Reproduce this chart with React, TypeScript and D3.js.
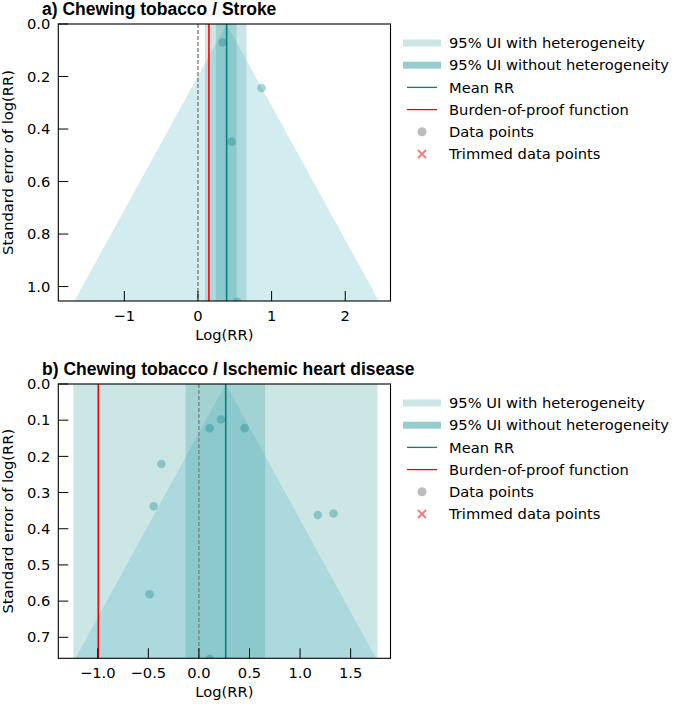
import React from "react";
import * as d3 from "d3";

// ---- Data ----
const panelTitles = ["a)  Chewing tobacco / Stroke", "b) Chewing tobacco / Ischemic heart disease"];
const meanRR = [0.389, 0.265];
const burdenOfProof = [0.149, -0.995];
const uiHetLo = [0.095, -1.241];
const uiHetHi = [0.66, 1.765];
const uiLo = [0.244, -0.132];
const uiHi = [0.524, 0.655];
const xDomains: [number, number][] = [[-1.897, 2.615], [-1.39, 1.894]];
const yDomains: [number, number][] = [[0, 1.055], [0, 0.758]];
const xTicksA = [-1, 0, 1, 2];
const xTicksB = [-1.0, -0.5, 0.0, 0.5, 1.0, 1.5];
const yTicksA = [0.0, 0.2, 0.4, 0.6, 0.8, 1.0];
const yTicksB = [0.0, 0.1, 0.2, 0.3, 0.4, 0.5, 0.6, 0.7];
const strokeX = [0.335, 0.863, 0.457, 0.533];
const strokeSE = [0.07, 0.244, 0.448, 1.058];
const ihdX = [0.106, 0.218, 0.451, -0.37, -0.447, 1.176, 1.331, -0.487, 0.106];
const ihdSE = [0.122, 0.098, 0.122, 0.221, 0.338, 0.362, 0.358, 0.581, 0.76];
const legendLabels = [
  "95% UI with heterogeneity",
  "95% UI without heterogeneity",
  "Mean RR",
  "Burden-of-proof function",
  "Data points",
  "Trimmed data points",
];

const TEAL = "#008080";
const FONT = "DejaVu Sans, sans-serif";
const FS = 14.7;

type PanelProps = {
  idx: number;
  top: number;
  bottom: number;
  xTicks: number[];
  yTicks: number[];
  xFmt: (v: number) => string;
  px: number[];
  pse: number[];
};

function Panel({ idx, top, bottom, xTicks, yTicks, xFmt, px, pse }: PanelProps) {
  const left = 58.3;
  const right = 390.5;
  const x = d3.scaleLinear().domain(xDomains[idx]).range([left, right]);
  const y = d3.scaleLinear().domain(yDomains[idx]).range([top, bottom]);
  const seMax = yDomains[idx][1];
  const m = meanRR[idx];
  const funnel = d3.line<[number, number]>().x((d) => x(d[0])).y((d) => y(d[1]))([
    [m, 0],
    [m - 1.96 * seMax * 1.05, seMax * 1.05],
    [m + 1.96 * seMax * 1.05, seMax * 1.05],
  ])!;
  const clipId = `clip${idx}`;
  const fmtY = (v: number) => v.toFixed(1);
  const lx = 403;
  const rowY = (i: number) => top + 19 + i * 22.2;
  return (
    <g>
      <defs>
        <clipPath id={clipId}>
          <rect x={left} y={top} width={right - left} height={bottom - top} />
        </clipPath>
      </defs>
      <text x={42} y={top - 9.5} fontFamily="Liberation Sans, Arial, sans-serif" fontWeight="bold" fontSize={17.5}>
        {panelTitles[idx]}
      </text>
      <g clipPath={`url(#${clipId})`}>
        <rect x={x(uiHetLo[idx])} y={top} width={x(uiHetHi[idx]) - x(uiHetLo[idx])} height={bottom - top} fill={TEAL} fillOpacity={0.2} />
        <rect x={x(uiLo[idx])} y={top} width={x(uiHi[idx]) - x(uiLo[idx])} height={bottom - top} fill={TEAL} fillOpacity={0.2} />
        <path d={funnel} fill="rgb(68,174,191)" fillOpacity={0.235} />
        <line x1={x(0)} x2={x(0)} y1={top} y2={bottom} stroke="#808080" strokeWidth={1.4} strokeDasharray="4,2" />
        <line x1={x(burdenOfProof[idx])} x2={x(burdenOfProof[idx])} y1={top} y2={bottom} stroke="red" strokeWidth={1.6} />
        <line x1={x(m)} x2={x(m)} y1={top} y2={bottom} stroke={TEAL} strokeWidth={1.6} />
        {px.map((v, i) => (
          <circle key={i} cx={x(v)} cy={y(pse[i])} r={4.3} fill={TEAL} fillOpacity={0.32} />
        ))}
      </g>
      <rect x={left} y={top} width={right - left} height={bottom - top} fill="none" stroke="#000" strokeWidth={1.1} />
      {yTicks.map((t) => (
        <g key={`y${t}`}>
          <line x1={left} x2={left + 10} y1={y(t)} y2={y(t)} stroke="#000" strokeWidth={1} />
          <text x={left - 8} y={y(t)} dy="0.35em" textAnchor="end" fontFamily={FONT} fontSize={FS}>
            {fmtY(t)}
          </text>
        </g>
      ))}
      {xTicks.map((t) => (
        <g key={`x${t}`}>
          <line x1={x(t)} x2={x(t)} y1={bottom} y2={bottom - 10} stroke="#000" strokeWidth={1} />
          <text x={x(t)} y={bottom + 20} textAnchor="middle" fontFamily={FONT} fontSize={FS}>
            {xFmt(t)}
          </text>
        </g>
      ))}
      <text x={(left + right) / 2} y={bottom + 39} textAnchor="middle" fontFamily={FONT} fontSize={FS}>
        Log(RR)
      </text>
      <text
        transform={`translate(13,${(top + bottom) / 2}) rotate(-90)`}
        textAnchor="middle"
        fontFamily={FONT}
        fontSize={FS}
      >
        Standard error of log(RR)
      </text>
      {/* legend */}
      <g>
        <rect x={lx} y={rowY(0) - 3.5} width={38} height={7} fill={TEAL} fillOpacity={0.2} />
        <rect x={lx} y={rowY(1) - 3.5} width={38} height={7} fill={TEAL} fillOpacity={0.4} />
        <line x1={lx + 4} x2={lx + 34} y1={rowY(2)} y2={rowY(2)} stroke={TEAL} strokeWidth={1.3} />
        <line x1={lx + 4} x2={lx + 34} y1={rowY(3)} y2={rowY(3)} stroke="red" strokeWidth={1.3} />
        <circle cx={lx + 19} cy={rowY(4)} r={4.5} fill="#bdbdbd" />
        <g stroke="#f08080" strokeWidth={2.2}>
          <line x1={lx + 15} x2={lx + 23} y1={rowY(5) - 4} y2={rowY(5) + 4} />
          <line x1={lx + 15} x2={lx + 23} y1={rowY(5) + 4} y2={rowY(5) - 4} />
        </g>
        {legendLabels.map((l, i) => (
          <text key={l} x={449} y={rowY(i)} dy="0.35em" fontFamily={FONT} fontSize={FS}>
            {l}
          </text>
        ))}
      </g>
    </g>
  );
}

export default function App() {
  const minus = (s: string) => s.replace("-", "\u2212");
  return (
    <svg width={675} height={707} style={{ position: "absolute", left: 0, top: 0, display: "block" }}>
      <rect x={0} y={0} width={675} height={707} fill="#fff" />
      <Panel
        idx={0}
        top={24}
        bottom={301}
        xTicks={xTicksA}
        yTicks={yTicksA}
        xFmt={(v) => minus(d3.format("d")(v))}
        px={strokeX}
        pse={strokeSE}
      />
      <Panel
        idx={1}
        top={384}
        bottom={658.3}
        xTicks={xTicksB}
        yTicks={yTicksB}
        xFmt={(v) => minus(d3.format(".1f")(v))}
        px={ihdX}
        pse={ihdSE}
      />
    </svg>
  );
}
